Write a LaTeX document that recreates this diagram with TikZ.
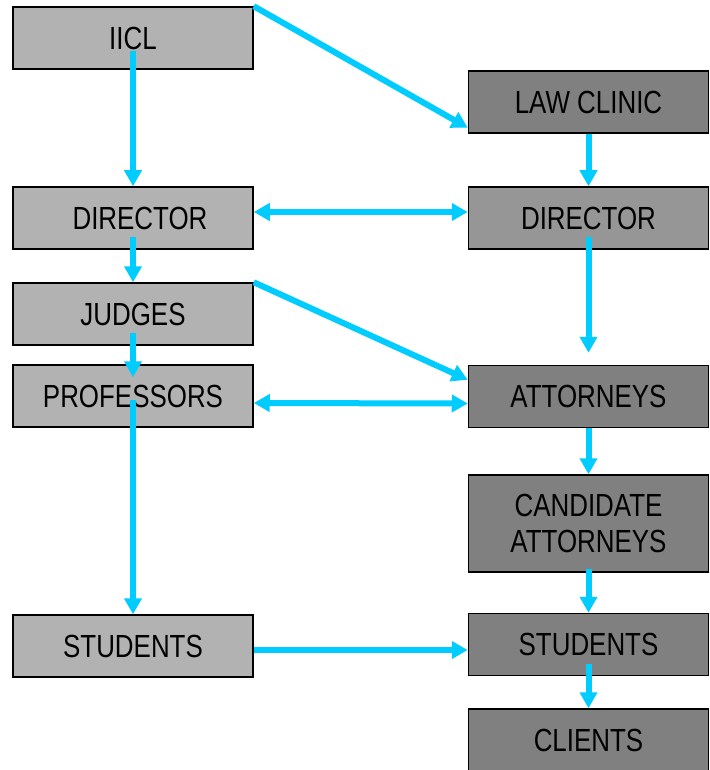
\documentclass[tikz,border=0pt]{standalone}
\usepackage{fontspec}
\setmainfont[FakeStretch=0.81]{Liberation Sans}
\usetikzlibrary{arrows.meta}
\definecolor{arrowblue}{HTML}{00CCFF}
\definecolor{lightgray}{HTML}{B2B2B2}
\definecolor{midgray}{HTML}{969696}
\definecolor{darkgray}{HTML}{808080}
\begin{document}
\begin{tikzpicture}[x=1pt, y=-1pt,
  box/.style={draw, line width=1.5pt, minimum width=240pt, minimum height=62pt,
    inner sep=0pt, align=center, font=\fontsize{32}{36}\selectfont},
  lbox/.style={box, fill=lightgray},
  rbox/.style={box, fill=darkgray},
  link/.style={arrowblue, line width=6pt, -{Triangle[length=16pt,width=17pt]}},
  twoway/.style={link, {Triangle[length=16pt,width=17pt]}-{Triangle[length=16pt,width=17pt]}}]
\useasboundingbox (0,0) rectangle (709,770);
\fill [white] (0,0) rectangle (709,770);
% left column
\node [lbox] (iicl) at (133,38) {IICL};
\node [lbox] (ldir) at (133,218) {\hspace*{14pt}DIRECTOR};
\node [lbox] (judges) at (133,314) {JUDGES};
\node [lbox] (profs) at (133,396) {PROFESSORS};
\node [lbox] (lstud) at (133,646) {STUDENTS};
% right column
\node [rbox] (clinic) at (588.5,102) {LAW CLINIC};
\node [box, fill=midgray] (rdir) at (588.5,218) {DIRECTOR};
\node [rbox] (attys) at (588.5,396.5) {ATTORNEYS};
\node [rbox, minimum height=97pt] (cand) at (588.5,523.5) {CANDIDATE\\ATTORNEYS};
\node [rbox] (rstud) at (588.5,644.5) {STUDENTS};
\node [rbox] (clients) at (588.5,740) {CLIENTS};
% arrows
\draw [link] ([yshift=19pt]iicl.south) -- (ldir.north);
\draw [link] (iicl.north east) -- ([yshift=6pt]clinic.south west);
\draw [link] (clinic.south) -- (rdir.north);
\draw [twoway] ([yshift=6pt]ldir.east) -- ([yshift=6pt]rdir.west);
\draw [link] ([yshift=13pt]ldir.south) -- (judges.north);
\draw [link] ([yshift=13pt]rdir.south) -- ([yshift=12pt]attys.north);
\draw [link] (judges.north east) -- ([yshift=-15pt]attys.north west);
\draw [link] ([yshift=13pt]judges.south) -- ([yshift=-13pt]profs.north);
\draw [twoway] ([yshift=-7pt]profs.east) -- ([yshift=-7pt]attys.west);
\draw [link] ([yshift=-4pt]profs.center) -- (lstud.north);
\draw [link] (attys.south) -- (cand.north);
\draw [link] ([yshift=4pt]cand.south) -- (rstud.north);
\draw [link] ([yshift=-4pt]lstud.east) -- ([yshift=-4pt]lstud.east -| rstud.west);
\draw [link] ([yshift=12pt]rstud.south) -- (clients.north);
\end{tikzpicture}
\end{document}
